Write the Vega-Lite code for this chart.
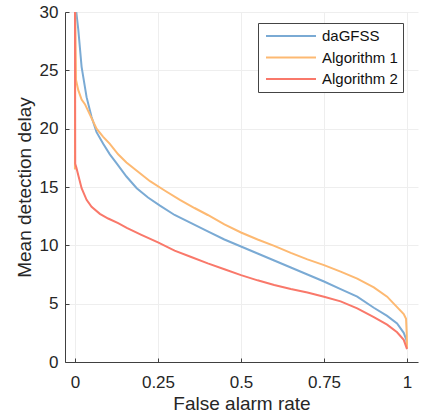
{
  "$schema": "https://vega.github.io/schema/vega-lite/v6.json",
  "width": 353,
  "height": 350,
  "autosize": {"type": "none"},
  "padding": {"left": 65, "top": 12, "right": 6, "bottom": 54},
  "background": "white",
  "config": {
    "font": "Liberation Sans",
    "view": {"stroke": null},
    "axis": {
      "domainColor": "#404040",
      "tickColor": "#404040",
      "gridColor": "#eeeeee",
      "labelColor": "#262626",
      "titleColor": "#262626",
      "labelFontSize": 17,
      "titleFontSize": 19,
      "titleFontWeight": "normal",
      "tickSize": -4
    }
  },
  "data": {
    "values": [
      {"s": "daGFSS", "i": 0, "x": 0.0, "y": 32},
      {"s": "daGFSS", "i": 1, "x": 0.004, "y": 30},
      {"s": "daGFSS", "i": 2, "x": 0.01, "y": 28.5},
      {"s": "daGFSS", "i": 3, "x": 0.02, "y": 25.3},
      {"s": "daGFSS", "i": 4, "x": 0.035, "y": 22.7},
      {"s": "daGFSS", "i": 5, "x": 0.05, "y": 21.0},
      {"s": "daGFSS", "i": 6, "x": 0.065, "y": 19.7},
      {"s": "daGFSS", "i": 7, "x": 0.085, "y": 18.7},
      {"s": "daGFSS", "i": 8, "x": 0.105, "y": 17.8},
      {"s": "daGFSS", "i": 9, "x": 0.125, "y": 17.05},
      {"s": "daGFSS", "i": 10, "x": 0.155, "y": 15.9},
      {"s": "daGFSS", "i": 11, "x": 0.186, "y": 14.9},
      {"s": "daGFSS", "i": 12, "x": 0.22, "y": 14.1},
      {"s": "daGFSS", "i": 13, "x": 0.256, "y": 13.4},
      {"s": "daGFSS", "i": 14, "x": 0.3, "y": 12.6},
      {"s": "daGFSS", "i": 15, "x": 0.35, "y": 11.9},
      {"s": "daGFSS", "i": 16, "x": 0.4, "y": 11.2},
      {"s": "daGFSS", "i": 17, "x": 0.45, "y": 10.5},
      {"s": "daGFSS", "i": 18, "x": 0.5, "y": 9.9},
      {"s": "daGFSS", "i": 19, "x": 0.55, "y": 9.3},
      {"s": "daGFSS", "i": 20, "x": 0.6, "y": 8.7},
      {"s": "daGFSS", "i": 21, "x": 0.65, "y": 8.1},
      {"s": "daGFSS", "i": 22, "x": 0.7, "y": 7.5},
      {"s": "daGFSS", "i": 23, "x": 0.75, "y": 6.9},
      {"s": "daGFSS", "i": 24, "x": 0.8, "y": 6.25},
      {"s": "daGFSS", "i": 25, "x": 0.85, "y": 5.6},
      {"s": "daGFSS", "i": 26, "x": 0.9, "y": 4.65},
      {"s": "daGFSS", "i": 27, "x": 0.94, "y": 3.95},
      {"s": "daGFSS", "i": 28, "x": 0.97, "y": 3.3},
      {"s": "daGFSS", "i": 29, "x": 0.99, "y": 2.5},
      {"s": "daGFSS", "i": 30, "x": 0.998, "y": 1.9},
      {"s": "daGFSS", "i": 31, "x": 1.0, "y": 1.3},
      {"s": "Algorithm 1", "i": 0, "x": 0.0, "y": 16.5},
      {"s": "Algorithm 1", "i": 1, "x": 0.0005, "y": 31},
      {"s": "Algorithm 1", "i": 2, "x": 0.003, "y": 24.2},
      {"s": "Algorithm 1", "i": 3, "x": 0.01, "y": 23.3},
      {"s": "Algorithm 1", "i": 4, "x": 0.02, "y": 22.5},
      {"s": "Algorithm 1", "i": 5, "x": 0.03, "y": 22.1},
      {"s": "Algorithm 1", "i": 6, "x": 0.045, "y": 21.2},
      {"s": "Algorithm 1", "i": 7, "x": 0.065, "y": 20.0},
      {"s": "Algorithm 1", "i": 8, "x": 0.085, "y": 19.3},
      {"s": "Algorithm 1", "i": 9, "x": 0.105, "y": 18.7},
      {"s": "Algorithm 1", "i": 10, "x": 0.13, "y": 17.8},
      {"s": "Algorithm 1", "i": 11, "x": 0.155, "y": 17.1},
      {"s": "Algorithm 1", "i": 12, "x": 0.19, "y": 16.3},
      {"s": "Algorithm 1", "i": 13, "x": 0.226, "y": 15.5},
      {"s": "Algorithm 1", "i": 14, "x": 0.27, "y": 14.7},
      {"s": "Algorithm 1", "i": 15, "x": 0.316, "y": 13.9},
      {"s": "Algorithm 1", "i": 16, "x": 0.36, "y": 13.2},
      {"s": "Algorithm 1", "i": 17, "x": 0.4, "y": 12.6},
      {"s": "Algorithm 1", "i": 18, "x": 0.45, "y": 11.8},
      {"s": "Algorithm 1", "i": 19, "x": 0.5, "y": 11.1},
      {"s": "Algorithm 1", "i": 20, "x": 0.55, "y": 10.5},
      {"s": "Algorithm 1", "i": 21, "x": 0.6, "y": 9.95},
      {"s": "Algorithm 1", "i": 22, "x": 0.65, "y": 9.35},
      {"s": "Algorithm 1", "i": 23, "x": 0.7, "y": 8.8},
      {"s": "Algorithm 1", "i": 24, "x": 0.75, "y": 8.3},
      {"s": "Algorithm 1", "i": 25, "x": 0.8, "y": 7.75},
      {"s": "Algorithm 1", "i": 26, "x": 0.85, "y": 7.15},
      {"s": "Algorithm 1", "i": 27, "x": 0.9, "y": 6.4},
      {"s": "Algorithm 1", "i": 28, "x": 0.94, "y": 5.6},
      {"s": "Algorithm 1", "i": 29, "x": 0.97, "y": 4.7},
      {"s": "Algorithm 1", "i": 30, "x": 0.99, "y": 4.1},
      {"s": "Algorithm 1", "i": 31, "x": 0.997, "y": 3.7},
      {"s": "Algorithm 1", "i": 32, "x": 0.999, "y": 2.5},
      {"s": "Algorithm 1", "i": 33, "x": 1.0, "y": 1.2},
      {"s": "Algorithm 2", "i": 0, "x": 0.0, "y": 31},
      {"s": "Algorithm 2", "i": 1, "x": 0.0008, "y": 17},
      {"s": "Algorithm 2", "i": 2, "x": 0.004, "y": 16.7},
      {"s": "Algorithm 2", "i": 3, "x": 0.01, "y": 16.0},
      {"s": "Algorithm 2", "i": 4, "x": 0.02, "y": 14.9},
      {"s": "Algorithm 2", "i": 5, "x": 0.035, "y": 13.9},
      {"s": "Algorithm 2", "i": 6, "x": 0.05, "y": 13.3},
      {"s": "Algorithm 2", "i": 7, "x": 0.075, "y": 12.7},
      {"s": "Algorithm 2", "i": 8, "x": 0.1, "y": 12.3},
      {"s": "Algorithm 2", "i": 9, "x": 0.13, "y": 11.9},
      {"s": "Algorithm 2", "i": 10, "x": 0.156, "y": 11.5},
      {"s": "Algorithm 2", "i": 11, "x": 0.2, "y": 10.9},
      {"s": "Algorithm 2", "i": 12, "x": 0.25, "y": 10.25},
      {"s": "Algorithm 2", "i": 13, "x": 0.3, "y": 9.55},
      {"s": "Algorithm 2", "i": 14, "x": 0.35, "y": 9.0},
      {"s": "Algorithm 2", "i": 15, "x": 0.4, "y": 8.45},
      {"s": "Algorithm 2", "i": 16, "x": 0.45, "y": 7.95},
      {"s": "Algorithm 2", "i": 17, "x": 0.5, "y": 7.45},
      {"s": "Algorithm 2", "i": 18, "x": 0.55, "y": 7.0},
      {"s": "Algorithm 2", "i": 19, "x": 0.6, "y": 6.6},
      {"s": "Algorithm 2", "i": 20, "x": 0.65, "y": 6.25},
      {"s": "Algorithm 2", "i": 21, "x": 0.7, "y": 5.95},
      {"s": "Algorithm 2", "i": 22, "x": 0.75, "y": 5.6},
      {"s": "Algorithm 2", "i": 23, "x": 0.8, "y": 5.2},
      {"s": "Algorithm 2", "i": 24, "x": 0.85, "y": 4.6},
      {"s": "Algorithm 2", "i": 25, "x": 0.9, "y": 3.85},
      {"s": "Algorithm 2", "i": 26, "x": 0.94, "y": 3.2},
      {"s": "Algorithm 2", "i": 27, "x": 0.97, "y": 2.55},
      {"s": "Algorithm 2", "i": 28, "x": 0.99, "y": 1.9},
      {"s": "Algorithm 2", "i": 29, "x": 1.0, "y": 1.1}
    ]
  },
  "mark": {"type": "line", "clip": true, "strokeWidth": 2, "interpolate": "linear"},
  "encoding": {
    "x": {
      "field": "x",
      "type": "quantitative",
      "scale": {"domain": [-0.03, 1.033], "nice": false, "zero": false},
      "axis": {
        "title": "False alarm rate",
        "values": [0, 0.25, 0.5, 0.75, 1],
        "format": ".2~f",
        "labelPadding": 16,
        "titlePadding": 4,
        "grid": true
      }
    },
    "y": {
      "field": "y",
      "type": "quantitative",
      "scale": {"domain": [0, 30], "nice": false},
      "axis": {
        "title": "Mean detection delay",
        "values": [0, 5, 10, 15, 20, 25, 30],
        "labelPadding": 11,
        "titlePadding": 5,
        "grid": true
      }
    },
    "color": {
      "field": "s",
      "type": "nominal",
      "scale": {
        "domain": ["daGFSS", "Algorithm 1", "Algorithm 2"],
        "range": ["#7aaad4", "#fdb972", "#f9786a"]
      },
      "legend": {
        "title": null,
        "orient": "none",
        "legendX": 193,
        "legendY": 11,
        "symbolType": "stroke",
        "symbolSize": 2500,
        "symbolStrokeWidth": 2,
        "symbolOffset": 2,
        "labelFontSize": 15,
        "labelColor": "#111111",
        "labelOffset": 5,
        "clipHeight": 16,
        "rowPadding": 5.5,
        "padding": 5,
        "strokeColor": "#444444",
        "fillColor": "white"
      }
    },
    "order": {"field": "i", "type": "quantitative"}
  }
}
